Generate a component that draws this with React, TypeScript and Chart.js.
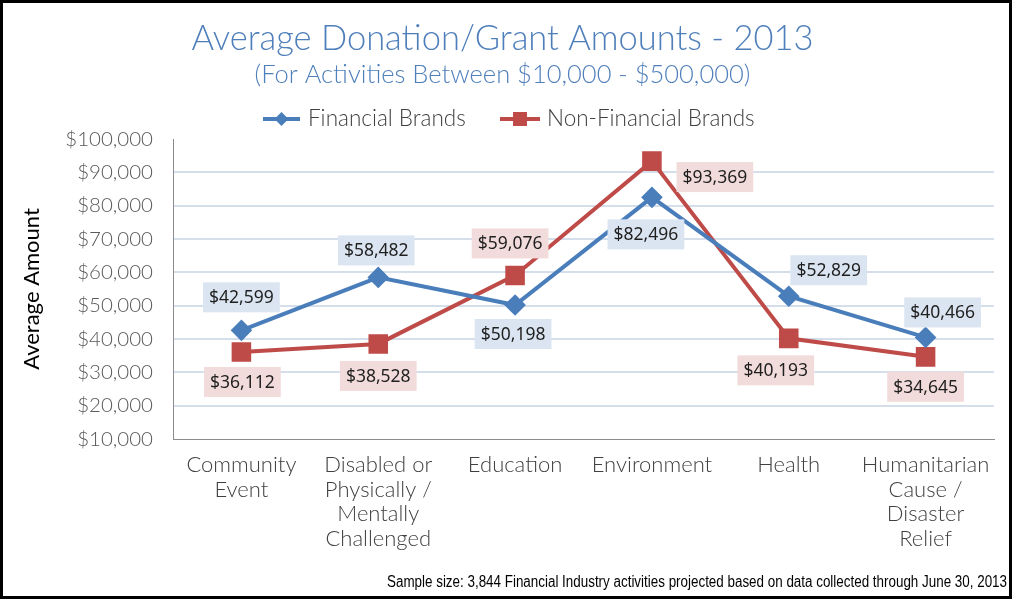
import React, { useEffect, useRef } from "react";
import Chart from "chart.js/auto";

const categories = [
  ["Community", "Event"],
  ["Disabled or", "Physically /", "Mentally", "Challenged"],
  ["Education"],
  ["Environment"],
  ["Health"],
  ["Humanitarian", "Cause /", "Disaster", "Relief"],
];
const financialBrands = [42599, 58482, 50198, 82496, 52829, 40466];
const nonFinancialBrands = [36112, 38528, 59076, 93369, 40193, 34645];
const seriesNames = ["Financial Brands", "Non-Financial Brands"];

// where each value label sits relative to its point (px)
const financialLabelOffsets = [[0, -33], [-2, -27], [-2, 29], [-6, 37], [40, -26], [17, -25]];
const nonFinancialLabelOffsets = [[1, 30], [0, 32], [-5, -32], [63, 16], [-13, 32], [0, 30]];

const BLUE = "#4a7ebb";
const RED = "#be4b48";
const BLUE_BG = "#dbe5f1";
const RED_BG = "#f2dcdb";
const FOOTNOTE = "Sample size: 3,844 Financial Industry activities projected based on data collected through June 30, 2013";

const money = (v: number) => "$" + v.toLocaleString("en-US");

const decorPlugin = {
  id: "decor",
  afterDatasetsDraw(chart: any) {
    const ctx = chart.ctx;
    const offsets = [financialLabelOffsets, nonFinancialLabelOffsets];
    const bgs = [BLUE_BG, RED_BG];
    ctx.save();
    ctx.font = "17.5px 'Noto Sans'";
    ctx.textAlign = "center";
    ctx.textBaseline = "middle";
    chart.data.datasets.forEach((ds: any, di: number) => {
      const meta = chart.getDatasetMeta(di);
      meta.data.forEach((pt: any, i: number) => {
        const [dx, dy] = offsets[di][i];
        const text = money(ds.data[i]);
        const w = ctx.measureText(text).width + 12;
        const h = 30;
        const cx = pt.x + dx;
        const cy = pt.y + dy;
        ctx.fillStyle = bgs[di];
        ctx.fillRect(cx - w / 2, cy - h / 2, w, h);
        ctx.fillStyle = "#1f1f1f";
        ctx.fillText(text, cx, cy + 1);
      });
    });
    ctx.restore();
  },
  afterDraw(chart: any) {
    const ctx = chart.ctx;
    ctx.save();
    // legend
    const items = [
      { x0: 260, x1: 297, color: BLUE, style: "rectRot", tx: 305 },
      { x0: 497, x1: 537, color: RED, style: "rect", tx: 544 },
    ];
    const ly = 116;
    items.forEach((it, i) => {
      ctx.strokeStyle = it.color;
      ctx.lineWidth = 4;
      ctx.beginPath();
      ctx.moveTo(it.x0, ly);
      ctx.lineTo(it.x1, ly);
      ctx.stroke();
      ctx.fillStyle = it.color;
      const mx = (it.x0 + it.x1) / 2;
      if (it.style === "rect") {
        ctx.fillRect(mx - 7, ly - 7, 14, 14);
      } else {
        ctx.beginPath();
        ctx.moveTo(mx, ly - 7);
        ctx.lineTo(mx + 7, ly);
        ctx.lineTo(mx, ly + 7);
        ctx.lineTo(mx - 7, ly);
        ctx.closePath();
        ctx.fill();
      }
      ctx.fillStyle = "#404040";
      ctx.font = "300 22.5px Lato";
      ctx.textAlign = "left";
      ctx.textBaseline = "middle";
      ctx.fillText(seriesNames[i], it.tx, ly);
    });
    // footnote, squeezed to look condensed
    ctx.font = "16px 'Liberation Sans', sans-serif";
    ctx.fillStyle = "#000";
    ctx.textAlign = "right";
    ctx.textBaseline = "middle";
    const fw = ctx.measureText(FOOTNOTE).width;
    const sx = 620 / fw;
    ctx.translate(1004, 580);
    ctx.scale(sx, 1);
    ctx.fillText(FOOTNOTE, 0, 0);
    ctx.restore();
  },
};

const App = () => {
  const canvasRef = useRef<HTMLCanvasElement | null>(null);

  useEffect(() => {
    document.body.style.margin = "0";
    const ctx = canvasRef.current?.getContext("2d");
    if (!ctx) return;

    const chart = new Chart(ctx, {
      type: "line",
      data: {
        labels: categories,
        datasets: [
          {
            label: seriesNames[0],
            data: financialBrands,
            borderColor: BLUE,
            backgroundColor: BLUE,
            borderWidth: 4,
            pointStyle: "rectRot",
            pointRadius: 8,
            pointHoverRadius: 8,
            tension: 0,
          },
          {
            label: seriesNames[1],
            data: nonFinancialBrands,
            borderColor: RED,
            backgroundColor: RED,
            borderWidth: 4,
            pointStyle: "rect",
            pointRadius: 11,
            pointHoverRadius: 11,
            tension: 0,
          },
        ],
      },
      options: {
        animation: false,
        responsive: true,
        maintainAspectRatio: false,
        layout: { padding: { top: 0, left: 0, right: 7, bottom: 0 } },
        plugins: {
          legend: { display: false },
          tooltip: { enabled: false },
          title: {
            display: true,
            text: "Average Donation/Grant Amounts - 2013",
            color: "#4f7fba",
            font: { family: "Lato", size: 34.5, weight: "300" },
            padding: { top: 15, bottom: 0 },
          },
          subtitle: {
            display: true,
            text: "(For Activities Between $10,000 - $500,000)",
            color: "#4f7fba",
            font: { family: "Lato", size: 25.5, weight: "300" },
            padding: { top: 0, bottom: 49 },
          },
        },
        scales: {
          x: {
            offset: true,
            grid: { display: false, drawTicks: false },
            border: { display: true, color: "#8c8c8c", width: 1 },
            ticks: {
              color: "#404040",
              font: { family: "Lato", size: 22, weight: "300", lineHeight: 1.11 },
              padding: 14,
              maxRotation: 0,
              autoSkip: false,
            },
            afterFit: (scale: any) => {
              scale.height = 157;
            },
          },
          y: {
            min: 10000,
            max: 100000,
            ticks: {
              stepSize: 10000,
              color: "#595959",
              font: { family: "Lato", size: 20.5, weight: "300" },
              padding: 20,
              callback: (v: any) => money(Number(v)),
            },
            grid: {
              drawTicks: false,
              lineWidth: 2,
              color: (c: any) =>
                c.tick && (c.tick.value === 100000 || c.tick.value === 10000) ? "rgba(0,0,0,0)" : "#d5deeb",
            },
            border: { display: true, color: "#8c8c8c", width: 1 },
            title: {
              display: true,
              text: "Average Amount",
              color: "#000",
              font: { family: "Lato", size: 22 },
              padding: { top: 16, bottom: 0 },
            },
            afterFit: (scale: any) => {
              scale.width = 170;
            },
          },
        },
      },
      plugins: [decorPlugin],
    });

    return () => {
      chart.destroy();
    };
  }, []);

  return (
    <div
      style={{
        width: 1012,
        height: 599,
        border: "3px solid #000",
        boxSizing: "border-box",
        background: "#fff",
        position: "relative",
      }}
    >
      <div style={{ width: 1006, height: 593, position: "relative" }}>
        <canvas ref={canvasRef} />
      </div>
    </div>
  );
};

export default App;
